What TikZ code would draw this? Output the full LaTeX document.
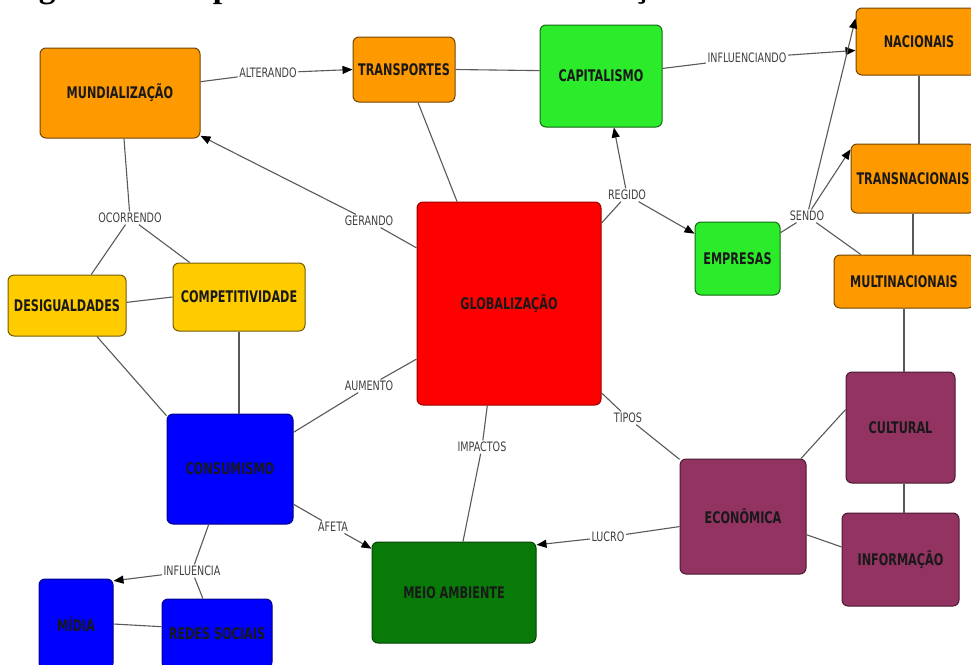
\documentclass[tikz,border=0pt]{standalone}
\usepackage{fontspec}
\setmainfont{Liberation Serif}
\newfontfamily\boxfont{DejaVu Sans Condensed}[FakeStretch=0.78]
\newfontfamily\lblfont{DejaVu Sans Condensed}[FakeStretch=0.82]
\usetikzlibrary{arrows.meta}
\definecolor{cOrange}{HTML}{FF9900}
\definecolor{cYellow}{HTML}{FFCC00}
\definecolor{cGreen}{HTML}{2BEB2B}
\definecolor{cDkGreen}{HTML}{087A08}
\definecolor{cRed}{HTML}{FF0000}
\definecolor{cBlue}{HTML}{0000FF}
\definecolor{cMaroon}{HTML}{933362}
\begin{document}
\begin{tikzpicture}[x=1pt,y=-1pt,
  box/.style={rounded corners=6pt, line width=1pt, inner sep=0pt, align=center,
    font=\boxfont\bfseries\fontsize{16pt}{18pt}\selectfont, text=black!90},
  obox/.style={box, fill=cOrange, draw=cOrange!45!black},
  ybox/.style={box, fill=cYellow, draw=cYellow!45!black},
  gbox/.style={box, fill=cGreen, draw=cGreen!45!black},
  dgbox/.style={box, fill=cDkGreen, draw=cDkGreen!55!black},
  rbox/.style={box, fill=cRed, draw=cRed!60!black},
  bbox/.style={box, fill=cBlue, draw=cBlue!55!black},
  mbox/.style={box, fill=cMaroon, draw=cMaroon!50!black},
  lbl/.style={font=\lblfont\fontsize{13pt}{14pt}\selectfont, text=black!75, inner sep=1.5pt},
  conn/.style={draw=black!65, line width=1.1pt},
  arr/.style={conn, -{Triangle[length=10pt,width=8pt,color=black]}},
  captext/.style={font=\bfseries\fontsize{33.5pt}{36pt}\selectfont, inner sep=0pt, anchor=base west}
]
\useasboundingbox (0,0) rectangle (971,664);
\fill[white] (0,0) rectangle (971,664);
\clip (0,0) rectangle (971,664);

% caption (cut off at the top, as in the reference)
\node[captext] (caption) at (9,-3) {Figura 1 – Mapa conceitual sobre Globalização};

% nodes
\node[obox, minimum width=160pt, minimum height=90pt] (mund) at (120,93) {MUNDIALIZAÇÃO};
\node[obox, minimum width=102pt, minimum height=65pt] (trans) at (404,69.5) {TRANSPORTES};
\node[gbox, minimum width=122pt, minimum height=102pt] (capit) at (601,76) {CAPITALISMO};
\node[obox, minimum width=126pt, minimum height=67pt] (nac) at (919,41.5) {NACIONAIS};
\node[obox, minimum width=124pt, minimum height=69pt] (transn) at (913,178.5) {TRANSNACIONAIS};
\node[obox, minimum width=140pt, minimum height=53pt] (multi) at (904,281.5) {MULTINACIONAIS};
\node[gbox, minimum width=85pt, minimum height=73pt] (empr) at (737.5,258.5) {EMPRESAS};
\node[rbox, minimum width=184pt, minimum height=203pt] (glob) at (509,303.5) {GLOBALIZAÇÃO};
\node[ybox, minimum width=118pt, minimum height=61pt] (desig) at (67,305.5) {DESIGUALDADES};
\node[ybox, minimum width=132pt, minimum height=68pt] (compet) at (239,297) {COMPETITIVIDADE};
\node[bbox, minimum width=126pt, minimum height=110pt] (consu) at (230,469) {CONSUMISMO};
\node[bbox, minimum width=74pt, minimum height=90pt] (midia) at (76,624) {MÍDIA};
\node[bbox, minimum width=110pt, minimum height=69pt] (redes) at (217,633.5) {REDES SOCIAIS};
\node[dgbox, minimum width=164pt, minimum height=101pt] (meio) at (454,592.5) {MEIO AMBIENTE};
\node[mbox, minimum width=126pt, minimum height=115pt] (econ) at (743,516.5) {ECONÔMICA};
\node[mbox, minimum width=109pt, minimum height=111pt] (cult) at (900.5,427.5) {CULTURAL};
\node[mbox, minimum width=117pt, minimum height=93pt] (info) at (900.5,559.5) {INFORMAÇÃO};

% linking phrases
\node[lbl] (lAlter) at (268,73) {ALTERANDO};
\node[lbl] (lGer) at (369,221) {GERANDO};
\node[lbl] (lReg) at (627,195) {REGIDO};
\node[lbl] (lInf) at (747,58) {INFLUENCIANDO};
\node[lbl] (lSendo) at (807,216) {SENDO};
\node[lbl] (lOcor) at (130,218) {OCORRENDO};
\node[lbl] (lAum) at (369,386) {AUMENTO};
\node[lbl] (lImp) at (482,447) {IMPACTOS};
\node[lbl] (lTipos) at (628,418) {TIPOS};
\node[lbl] (lLucro) at (608,537) {LUCRO};
\node[lbl] (lAfeta) at (333,527) {AFETA};
\node[lbl] (lInfl) at (192,571) {INFLUENCIA};

% connectors
\draw[conn] (mund.8) -- (lAlter);
\draw[arr] (lAlter) -- (trans.west);
\draw[conn] (trans.east) -- (capit.175);
\draw[conn] (trans.-67) -- (glob.117);
\draw[conn] (glob.149) -- (lGer);
\draw[arr] (lGer) -- (mund.-28);
\draw[conn] (glob.41) -- (lReg);
\draw[arr] (lReg) -- (capit.-76);
\draw[arr] (lReg) -- (empr.150);
\draw[conn] (capit.7) -- (lInf);
\draw[arr] (lInf) -- (nac.188);
\draw[conn] (empr.31) -- (lSendo);
\draw[arr] (lSendo) -- (nac.160);
\draw[arr] (lSendo) -- (transn.155);
\draw[conn] (lSendo) -- (multi.148);
\draw[conn] (nac.south) -- (nac.south |- transn.north);
\draw[conn] (transn.south) -- (transn.south |- multi.north);
\draw[conn] (multi.south) -- (multi.south |- cult.north);
\draw[conn] (multi.south |- cult.south) -- (multi.south |- info.north);
\draw[conn] (econ.45) -- (cult.162);
\draw[conn] (econ.-16) -- (info.168);
\draw[conn] (glob.-44) -- (lTipos);
\draw[conn] (lTipos) -- (econ.138);
\draw[conn] (econ.189) -- (lLucro);
\draw[arr] (lLucro) -- (meio.30);
\draw[conn] (glob.-102) -- (lImp);
\draw[conn] (lImp) -- (meio.80);
\draw[conn] (glob.211) -- (lAum);
\draw[conn] (lAum) -- (consu.30);
\draw[conn] (consu.-29) -- (lAfeta);
\draw[arr] (lAfeta) -- (meio.152);
\draw[conn] (consu.-111) -- (lInfl);
\draw[arr] (lInfl) -- (midia.49);
\draw[conn] (lInfl) -- (redes.112);
\draw[conn] (midia.east) -- (redes.173);
\draw[conn] (mund.-85) -- (lOcor);
\draw[conn] (lOcor) -- (desig.52);
\draw[conn] (lOcor) -- (compet.145);
\draw[conn] (desig.3) -- (compet.west);
\draw[conn] (desig.-46) -- (consu.140);
\draw[conn] (compet.south) -- (compet.south |- consu.north);
\end{tikzpicture}
\end{document}
